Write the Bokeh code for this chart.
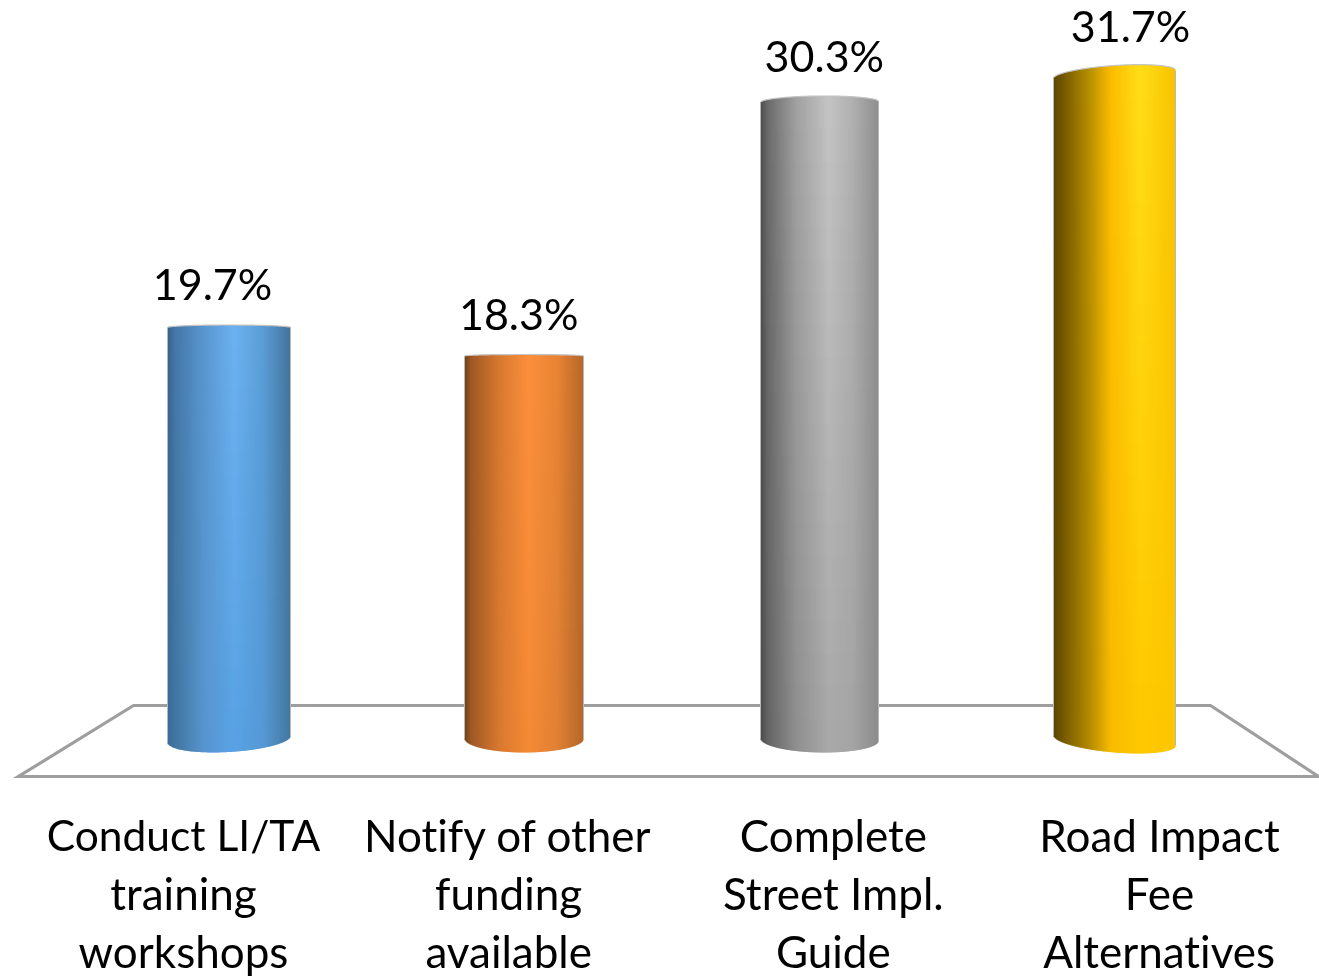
from bokeh.plotting import figure
from bokeh.embed import file_html
from bokeh.resources import INLINE
from bokeh.models import ColumnDataSource, Range1d
from bokeh.core.properties import value as V

categories = [
    ["Conduct LI/TA", "training", "workshops"],
    ["Notify of other", "funding", "available"],
    ["Complete", "Street Impl.", "Guide"],
    ["Road Impact", "Fee", "Alternatives"],
]
values = [19.7, 18.3, 30.3, 31.7]
value_labels = ["19.7%", "18.3%", "30.3%", "31.7%"]

W, H = 1319, 976
PX_PER_VALUE = 21.56
ZERO_PX = 749.0
CENTER0, SPACING = 228.5, 295.17
def xd(px): return (px - CENTER0) / SPACING
def yd(px): return (ZERO_PX - px) / PX_PER_VALUE

left_px = [167, 464, 760, 1053]
width_px = [123, 119, 118, 122]
top_edges = [(327, 327, 2.5), (355.5, 355.5, 1.5), (102, 101, 6), (78, 70, 9)]
bot_edges = [(742, 735, 13), (738, 738, 14), (738, 740, 13), (735, 745, 12)]
stops = [
    [0, .06, .3, .54, .78, 1],
    [0, .06, .3, .54, .78, 1],
    [0, .06, .3, .58, .78, 1],
    [0, .06, .3, .47, .71, 1],
]
top_cols = [
    ["#37618c", "#4577a8", "#5a96ce", "#6db2f0", "#5a9cd6", "#44729a"],
    ["#6e3f18", "#a05a25", "#d97a30", "#fb8f3d", "#e88434", "#b5672a"],
    ["#4c4c4c", "#6a6a6a", "#a0a0a0", "#c4c4c4", "#b0b0b0", "#8e8e8e"],
    ["#5c4500", "#6f5500", "#b89000", "#fcbc00", "#ffde18", "#f8c200"],
]
bot_cols = [
    ["#3a6c9c", "#41769f", "#5794d0", "#58a2e4", "#5598d4", "#44789f"],
    ["#6e3f18", "#a05a25", "#d97a30", "#f58a35", "#e08034", "#b5672a"],
    ["#4a4a4a", "#646464", "#8e8e8e", "#a8a8a8", "#a4a4a4", "#8a8a8a"],
    ["#5a4400", "#6f5500", "#b48c00", "#f8ba00", "#ffc800", "#fcc600"],
]
floor_px = [(133, 705), (1210, 705), (1318, 776), (18, 776)]

def rgb(c): return [int(c[i:i+2], 16) for i in (1, 3, 5)]
def grad(cols, st, t):
    for i in range(len(st) - 1):
        if t <= st[i+1]:
            f = (t - st[i]) / (st[i+1] - st[i])
            a, b = rgb(cols[i]), rgb(cols[i+1])
            return [a[k] + (b[k] - a[k]) * f for k in range(3)]
    return rgb(cols[-1])

p = figure(width=W, height=H, x_range=Range1d(xd(0), xd(W)), y_range=Range1d(yd(H), yd(0)),
           output_backend="svg", toolbar_location=None, min_border=0,
           x_axis_location=None, y_axis_location=None, outline_line_color=None,
           background_fill_color="white", border_fill_color="white")
p.grid.visible = False
p.styles = {"position": "fixed", "left": "0", "top": "0",
            "font-variant-ligatures": "none", "font-feature-settings": '"liga" 0'}

p.patch([xd(a) for a, _ in floor_px], [yd(b) for _, b in floor_px], fill_color=None,
        line_color="#9e9e9e", line_width=3.2, line_join="miter")

NB = 20
L, R, T, B, C = [], [], [], [], []
cap_x, cap_y = [], []
side_x, side_y = [], []
for i, v in enumerate(values):
    NS = width_px[i]
    tl, tr, th = top_edges[i]
    bl, br, bh = bot_edges[i]
    cx, cy = [], []
    for s in range(NS):
        a = (s + .5) / NS
        t = 2 * a - 1
        e = (1 - t * t) ** .5
        ty = tl + (tr - tl) * a - th * e
        by = bl + (br - bl) * a + bh * e
        ct_, cb_ = grad(top_cols[i], stops[i], a), grad(bot_cols[i], stops[i], a)
        cx.append(xd(left_px[i] + s + .5)); cy.append(yd(ty))
        for b in range(NB):
            f0, f1 = b / NB, (b + 1) / NB
            fm = (f0 + f1) / 2
            col = [int(round(ct_[k] + (cb_[k] - ct_[k]) * fm)) for k in range(3)]
            L.append(xd(left_px[i] + s))
            R.append(xd(left_px[i] + s + (1 if s == NS - 1 else 1.6)))
            T.append(yd(ty + (by - ty) * f0))
            B.append(yd(ty + (by - ty) * f1 + (0 if b == NB - 1 else 1)))
            C.append("#%02x%02x%02x" % tuple(col))
    cap_x.append(cx); cap_y.append(cy)
    side_x.append([xd(left_px[i]), xd(left_px[i])]); side_y.append([yd(tl), yd(bl)])
    side_x.append([xd(left_px[i] + NS), xd(left_px[i] + NS)]); side_y.append([yd(tr), yd(br)])

p.quad(left=L, right=R, top=T, bottom=B, fill_color=C, line_color=None)
p.multi_line(cap_x, cap_y, line_color="#c4c4c4", line_width=1.2)
p.multi_line(side_x, side_y, line_color="#b8b8b8", line_width=1)

# value labels
p.text(x=list(range(4)), y=values, text=value_labels,
       x_offset=[-16.5, -5.5, 5, 16], y_offset=-41,
       text_align="center", text_baseline="alphabetic", text_color="#000000",
       text_font=V("Lato"), text_font_size="43px")

# category labels
cat_off = [-45.5, -15.5, 14, 45]
line_y = [85, 143, 201]
cx, cy, ct, co, cyo, cs = [], [], [], [], [], []
for i, lines in enumerate(categories):
    for j, t in enumerate(lines):
        cx.append(i); cy.append(0); ct.append(t); co.append(cat_off[i]); cyo.append(line_y[j])
        cs.append("42.5px" if t == "Conduct LI/TA" else "44px")
src = ColumnDataSource(dict(x=cx, y=cy, text=ct, xo=co, yo=cyo, fs=cs))
p.text(x="x", y="y", text="text", x_offset="xo", y_offset="yo", source=src,
       text_align="center", text_baseline="alphabetic", text_color="#000000",
       text_font=V("Lato"), text_font_size="fs")

open("out.html", "w").write(file_html(p, INLINE))
